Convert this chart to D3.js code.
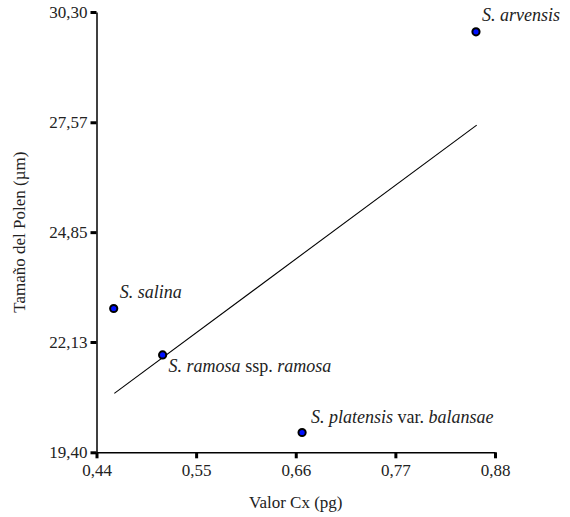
<!DOCTYPE html>
<html>
<head>
<meta charset="utf-8">
<style>
  body { margin: 0; background: #fff; }
  svg { display: block; }
  .axis path { stroke: #000; stroke-width: 1.5; }
  .axis line { stroke: #000; stroke-width: 3; }
</style>
</head>
<body>
<svg width="570" height="517"></svg>
<script src="https://d3js.org/d3.v7.min.js"></script>
<script>
// datos
var species = [
  [{t: "S. arvensis", i: true}],
  [{t: "S. salina", i: true}],
  [{t: "S. ramosa", i: true}, {t: " ssp. ", i: false}, {t: "ramosa", i: true}],
  [{t: "S. platensis", i: true}, {t: " var. ", i: false}, {t: "balansae", i: true}]
];
var cx = [0.859, 0.459, 0.513, 0.667];
var pollen = [29.81, 22.96, 21.81, 19.89];
var labelDx = [6, 6, 6, 9];
var labelDy = [-11, -10, 17, -10];

var xTicks = [0.44, 0.55, 0.66, 0.77, 0.88];
var yTicks = [19.40, 22.13, 24.85, 27.57, 30.30];

// recta de regresion (extremos)
var fitX = [0.4597, 0.8598];
var fitY = [20.86, 27.50];

var serif = "'Liberation Serif', 'Times New Roman', Times, serif";

var svg = d3.select("svg"),
    mLeft = 96.5, mRight = 495, mTop = 12, mBottom = 452.3;

var x = d3.scaleLinear().domain([0.44, 0.88]).range([mLeft, mRight]);
var y = d3.scaleLinear().domain([19.40, 30.30]).range([mBottom, mTop]);

var fmt = function(d) { return d3.format(".2f")(d).replace(".", ","); };

var gx = svg.append("g")
    .attr("class", "axis")
    .attr("transform", "translate(0," + mBottom + ")")
    .call(d3.axisBottom(x).tickValues(xTicks).tickFormat(fmt).tickSize(6).tickSizeOuter(0).tickPadding(6));

var gy = svg.append("g")
    .attr("class", "axis")
    .attr("transform", "translate(" + mLeft + ",0)")
    .call(d3.axisLeft(y).tickValues(yTicks).tickFormat(fmt).tickSize(6).tickSizeOuter(0).tickPadding(3));

[gx, gy].forEach(function(g) {
  g.attr("font-family", serif).attr("font-size", 17);
  g.selectAll("text").attr("fill", "#222");
});

svg.append("path")
    .attr("d", d3.line()([[x(fitX[0]), y(fitY[0])], [x(fitX[1]), y(fitY[1])]]))
    .attr("stroke", "#000")
    .attr("stroke-width", 1.1)
    .attr("fill", "none");

svg.selectAll(".pt")
    .data(cx)
    .enter().append("circle")
      .attr("class", "pt")
      .attr("cx", function(d) { return x(d); })
      .attr("cy", function(d, i) { return y(pollen[i]); })
      .attr("r", 3.6)
      .attr("fill", "#0010ff")
      .attr("stroke", "#000")
      .attr("stroke-width", 2);

var lbl = svg.selectAll(".lbl")
    .data(species)
    .enter().append("text")
      .attr("class", "lbl")
      .attr("font-family", serif)
      .attr("font-size", 18)
      .attr("fill", "#222")
      .attr("x", function(d, i) { return x(cx[i]) + labelDx[i]; })
      .attr("y", function(d, i) { return y(pollen[i]) + labelDy[i]; });

lbl.selectAll("tspan")
    .data(function(d) { return d; })
    .enter().append("tspan")
      .attr("font-style", function(d) { return d.i ? "italic" : "normal"; })
      .attr("xml:space", "preserve")
      .text(function(d) { return d.t; });

svg.append("text")
    .attr("x", (mLeft + mRight) / 2)
    .attr("y", 508)
    .attr("text-anchor", "middle")
    .attr("font-family", serif)
    .attr("font-size", 17)
    .attr("fill", "#222")
    .text("Valor Cx (pg)");

svg.append("text")
    .attr("transform", "translate(25," + (mTop + mBottom) / 2 + ") rotate(-90)")
    .attr("text-anchor", "middle")
    .attr("font-family", serif)
    .attr("font-size", 17)
    .attr("fill", "#222")
    .text("Tamaño del Polen (µm)");
</script>
</body>
</html>
